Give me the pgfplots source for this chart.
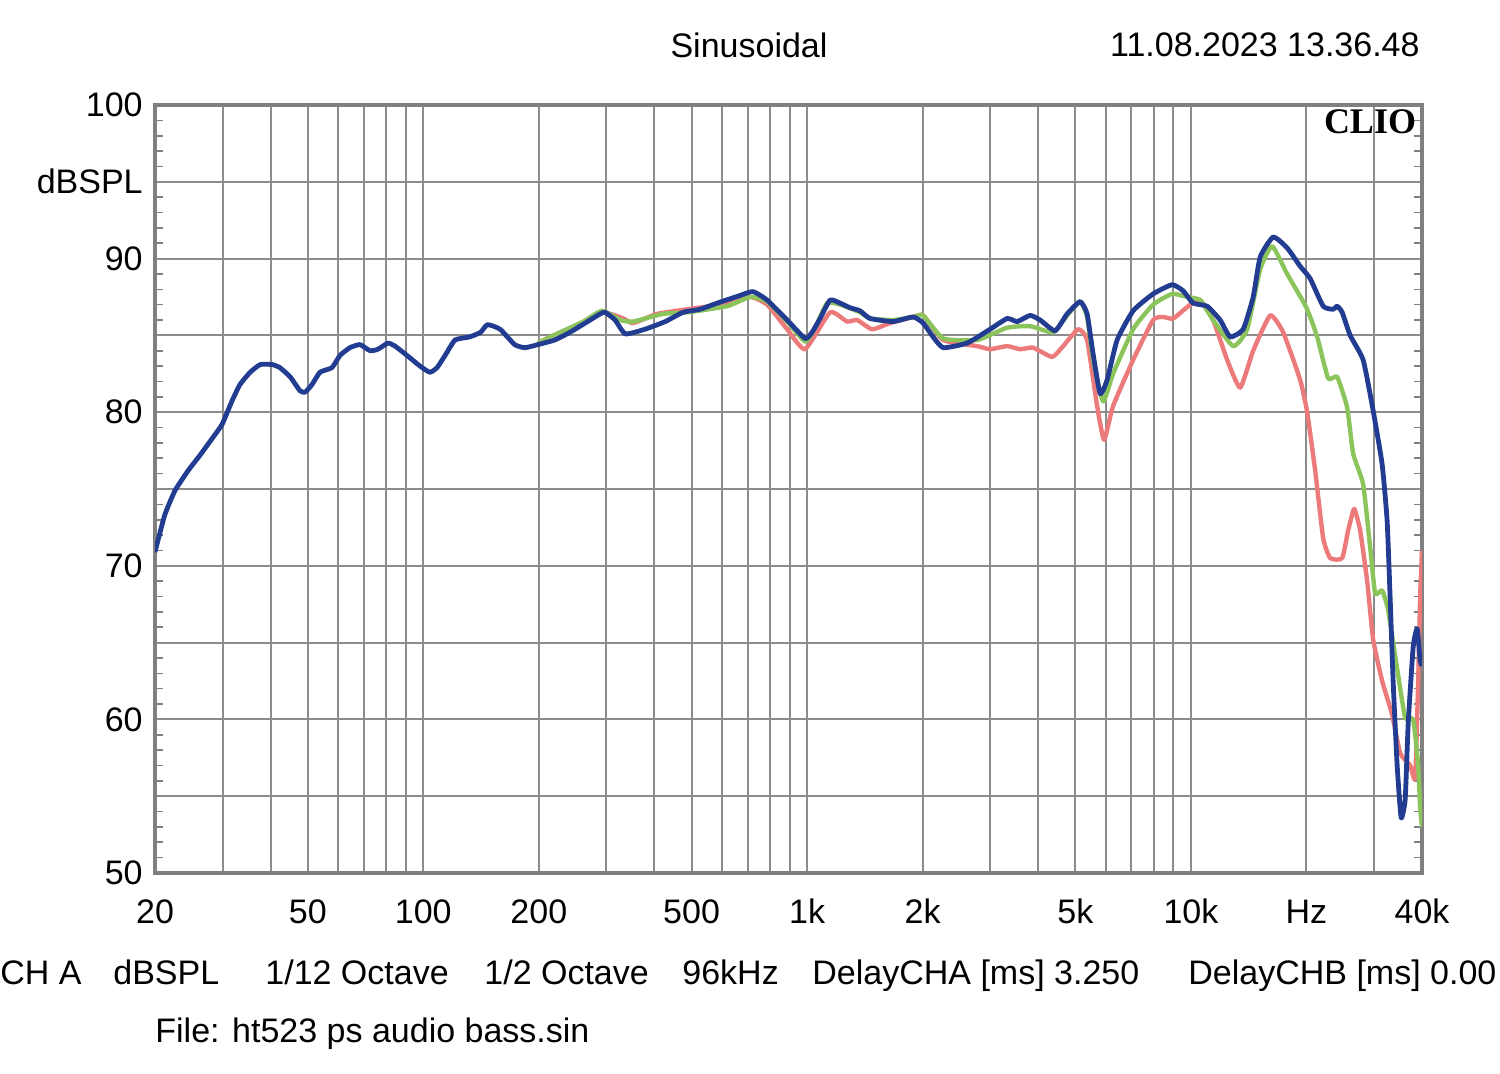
\documentclass[border=0pt]{standalone}
\usepackage{pgfplots}
\pgfplotsset{compat=1.18}
\usepackage{fontspec}
\setmainfont{Liberation Sans}
\newfontfamily\cliofont{Liberation Serif}
\definecolor{cblue}{RGB}{33,60,145}
\definecolor{cgreen}{RGB}{140,196,92}
\definecolor{cred}{RGB}{236,122,122}
\definecolor{gridgray}{RGB}{140,140,140}
\definecolor{framegray}{RGB}{128,128,128}
\newcommand\lab{\fontsize{17}{20}\selectfont}
\begin{document}
\begin{tikzpicture}
\useasboundingbox (0,0) rectangle (750pt,537pt);
\begin{axis}[
  at={(77.5pt,100.5pt)}, anchor=south west,
  scale only axis, width=633.5pt, height=384pt,
  xmode=log, xmin=20, xmax=40000, ymin=50, ymax=100,
  axis line style={framegray, line width=2pt},
  grid=major,
  major grid style={gridgray, line width=1pt},
  xtick={20,30,40,50,60,70,80,90,100,200,300,400,500,600,700,800,900,1000,2000,3000,4000,5000,6000,7000,8000,9000,10000,20000,30000,40000},
  xticklabels={20,,,50,,,,,100,200,,,500,,,,,1k,2k,,,5k,,,,,10k,Hz,,40k},
  ytick={50,55,60,65,70,75,80,85,90,95,100},
  yticklabels={50,,60,,70,,80,,90,dBSPL,100},
  minor ytick={51,52,53,54,56,57,58,59,61,62,63,64,66,67,68,69,71,72,73,74,76,77,78,79,81,82,83,84,86,87,88,89,91,92,93,94,96,97,98,99},
  xtick style={draw=none},
  major tick length=0pt,
  minor tick length=4pt,
  tick align=inside,
  ytick pos=both,
  minor tick style={framegray, line width=0.8pt},
  xticklabel style={font=\lab, anchor=base, inner sep=0pt, yshift=-25.5pt},
  yticklabel style={font=\lab, anchor=east, inner sep=0pt, xshift=-6pt},
  every axis plot/.append style={smooth, tension=0.3, line join=round},
  clip=true,
]
\addplot[cred, line width=2.2pt] coordinates {
(199,84.5) (214,84.9) (256,85.7) (294,86.5) (332,86.1) (352,85.8) (407,86.4) (487,86.7) (593,87.0) (710,87.5) (787,87.0) (887,85.4) (988,84.1) (1148,86.5) (1271,85.9) (1350,86.0) (1477,85.4) (1645,85.8) (1889,86.2) (2006,86.3) (2262,84.7) (2774,84.3) (2998,84.1) (3320,84.3) (3590,84.1) (3880,84.2) (4350,83.6) (4646,84.3) (5082,85.4) (5364,84.7) (5697,80.4) (5940,78.2) (6269,80.4) (7070,83.4) (7971,86.0) (8464,86.2) (8988,86.1) (9954,87.0) (10570,87.3) (11426,86.0) (12428,83.4) (13439,81.6) (14527,84.0) (16086,86.3) (17392,85.2) (19258,82.1) (20083,80.0) (21070,76.2) (22108,71.8) (23058,70.5) (24776,70.5) (25682,72.3) (26624,73.7) (27600,72.3) (28784,69.0) (29838,65.2) (31492,62.5) (33440,60.3) (35092,57.8) (37262,57.0) (38396,56.2) (39094,62.5) (39566,68) (40000,71)
};
\addplot[cgreen, line width=2.2pt] coordinates {
(199,84.5) (214,84.9) (261,85.9) (292,86.6) (326,86.0) (352,85.9) (421,86.4) (487,86.5) (619,86.9) (710,87.5) (787,87.2) (887,85.9) (988,84.6) (1049,85.5) (1127,87.1) (1219,87.0) (1374,86.5) (1459,86.1) (1675,86.0) (1889,86.2) (2006,86.3) (2262,84.8) (2774,84.7) (3320,85.5) (3811,85.6) (4375,85.2) (4758,86.3) (5144,87.2) (5364,86.2) (5560,83.4) (5904,80.7) (6269,82.5) (7070,85.4) (7971,87.0) (8933,87.7) (9776,87.5) (10570,87.3) (11426,86.0) (12884,84.3) (14014,85.4) (15150,89.3) (16281,90.8) (17812,89.0) (20000,86.8) (21325,84.9) (22780,82.2) (24044,82.3) (25527,80.3) (26464,77.3) (28100,75.3) (29306,71.2) (30200,68.2) (31492,68.4) (32648,67.1) (34458,63.3) (36161,60.1) (37938,60.0) (39094,57.0) (39566,54.2) (40000,53)
};
\addplot[cblue, line width=2.4pt] coordinates {
(20,70.9) (21.2,73.3) (22.55,74.9) (24.4,76.2) (26.2,77.2) (28.2,78.3) (29.9,79.2) (31.7,80.7) (33.3,81.8) (35.4,82.6) (37.6,83.1) (40.4,83.1) (42.3,82.9) (45,82.3) (47.7,81.4) (49.2,81.3) (51.3,81.8) (53.8,82.6) (57.8,82.9) (60.7,83.7) (64.4,84.2) (68.4,84.4) (72.7,84.0) (76.2,84.1) (80.9,84.5) (84.4,84.3) (89.6,83.8) (98.1,83.0) (104,82.6) (108.6,82.9) (114,83.7) (121,84.7) (132,84.9) (141,85.2) (147,85.7) (158.5,85.4) (173,84.4) (184,84.2) (199,84.4) (220,84.7) (241,85.2) (264,85.8) (289,86.4) (298,86.5) (316,86.0) (336,85.1) (378,85.4) (427,85.9) (475,86.5) (526,86.7) (583,87.1) (669,87.6) (723,87.85) (787,87.3) (887,86.0) (988,84.8) (1030,85.2) (1081,86.1) (1148,87.3) (1219,87.1) (1294,86.8) (1374,86.6) (1459,86.1) (1675,85.9) (1889,86.2) (2006,85.8) (2130,84.9) (2262,84.2) (2612,84.5) (2998,85.4) (3320,86.1) (3526,85.9) (3811,86.3) (4047,86.0) (4428,85.3) (4758,86.4) (5144,87.2) (5364,86.4) (5560,83.8) (5800,81.2) (6048,82.1) (6422,84.7) (7070,86.6) (7971,87.7) (8933,88.3) (9543,87.9) (10134,87.1) (11022,86.9) (11916,86.0) (12654,84.9) (13681,85.4) (14527,87.5) (15150,90.1) (16378,91.4) (17812,90.7) (19258,89.5) (20446,88.7) (22108,86.9) (23474,86.7) (24044,86.9) (24776,86.5) (25993,85.0) (28100,83.4) (29838,80.1) (31492,76.6) (32451,72.9) (33040,67.9) (33640,62.5) (34458,57.0) (35294,53.6) (36161,54.8) (36818,59.7) (37938,64.7) (38860,65.9) (39566,63.8) (40000,63.5)
};
\end{axis}
\node[font=\lab, inner sep=0pt] at (374.5pt,514.5pt) {Sinusoidal};
\node[font=\lab, inner sep=0pt, anchor=east] at (710pt,514.5pt) {11.08.2023 13.36.48};
\node[inner sep=0pt] at (685pt,476pt) {\cliofont\fontsize{18}{20}\selectfont\bfseries CLIO};
\node[font=\lab, inner sep=0pt, anchor=base west] at (0pt,44.5pt) {CH A};
\node[font=\lab, inner sep=0pt, anchor=base west] at (56.5pt,44.5pt) {dBSPL};
\node[font=\lab, inner sep=0pt, anchor=base west] at (132.5pt,44.5pt) {1/12 Octave};
\node[font=\lab, inner sep=0pt, anchor=base west] at (242pt,44.5pt) {1/2 Octave};
\node[font=\lab, inner sep=0pt, anchor=base west] at (341pt,44.5pt) {96kHz};
\node[font=\lab, inner sep=0pt, anchor=base west] at (406pt,44.5pt) {DelayCHA [ms] 3.250};
\node[font=\lab, inner sep=0pt, anchor=base west] at (594pt,44.5pt) {DelayCHB [ms] 0.00};
\node[font=\lab, inner sep=0pt, anchor=base west] at (77.5pt,15.5pt) {File: ht523 ps audio bass.sin};
\end{tikzpicture}
\end{document}
